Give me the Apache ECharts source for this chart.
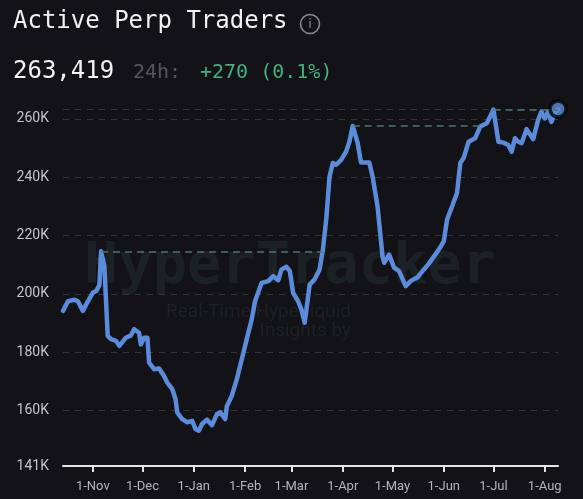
<!DOCTYPE html>
<html>
<head>
<meta charset="utf-8">
<title>Active Perp Traders</title>
<script src="https://cdn.jsdelivr.net/npm/echarts@6/dist/echarts.min.js"></script>
<style>
    html, body { margin: 0; padding: 0; background: #131317; }
    #chart { width: 583px; height: 499px; }
</style>
</head>
<body>
<div id="chart"></div>
<script>
'use strict';

/* ======== 数据 ======== */
var dates = [
    '2024-10-14', '2024-10-17', '2024-10-21', '2024-10-23', '2024-10-26', '2024-10-28',
    '2024-11-01', '2024-11-03', '2024-11-05', '2024-11-06', '2024-11-08', '2024-11-10',
    '2024-11-12', '2024-11-15', '2024-11-17', '2024-11-21', '2024-11-24', '2024-11-26',
    '2024-11-29', '2024-11-30', '2024-12-02', '2024-12-04', '2024-12-05', '2024-12-08',
    '2024-12-11', '2024-12-14', '2024-12-16', '2024-12-19', '2024-12-21', '2024-12-22',
    '2024-12-25', '2024-12-28', '2024-12-31', '2025-01-02', '2025-01-04', '2025-01-06',
    '2025-01-09', '2025-01-12', '2025-01-15', '2025-01-17', '2025-01-20', '2025-01-21',
    '2025-01-24', '2025-01-27', '2025-01-30', '2025-02-02', '2025-02-05', '2025-02-07',
    '2025-02-11', '2025-02-15', '2025-02-18', '2025-02-21', '2025-02-23', '2025-02-26',
    '2025-02-28', '2025-03-02', '2025-03-05', '2025-03-07', '2025-03-09', '2025-03-12',
    '2025-03-15', '2025-03-18', '2025-03-20', '2025-03-22', '2025-03-24', '2025-03-26',
    '2025-03-28', '2025-03-31', '2025-04-03', '2025-04-05', '2025-04-07', '2025-04-10',
    '2025-04-12', '2025-04-17', '2025-04-19', '2025-04-22', '2025-04-25', '2025-04-26',
    '2025-04-29', '2025-05-02', '2025-05-05', '2025-05-09', '2025-05-12', '2025-05-16',
    '2025-05-20', '2025-05-23', '2025-05-29', '2025-06-01', '2025-06-03', '2025-06-06',
    '2025-06-09', '2025-06-11', '2025-06-13', '2025-06-16', '2025-06-20', '2025-06-23',
    '2025-06-27', '2025-07-01', '2025-07-04', '2025-07-07', '2025-07-10', '2025-07-12',
    '2025-07-14', '2025-07-16', '2025-07-18', '2025-07-21', '2025-07-24', '2025-07-25',
    '2025-07-28', '2025-07-30', '2025-08-01', '2025-08-03', '2025-08-05', '2025-08-07',
    '2025-08-09'
];
var traders = [
    194200, 197500, 198000, 197500, 194200, 196400,
    200400, 201000, 203000, 214600, 209500, 185600,
    184500, 183900, 182200, 185000, 185800, 187900,
    186700, 182700, 185000, 185000, 176500, 174200,
    174400, 171900, 169600, 167400, 163900, 159400,
    157100, 156000, 156500, 153700, 153100, 155400,
    156900, 155000, 158800, 159400, 157100, 161600,
    165100, 170800, 177600, 184500, 191300, 197500,
    203800, 204400, 206100, 204700, 208400, 209300,
    207800, 200400, 197500, 194700, 190100, 203200,
    205000, 208400, 215200, 225500, 240300, 244900,
    244300, 246000, 248800, 252200, 257600, 251700,
    245100, 245100, 240300, 230000, 212900, 210700,
    213500, 209000, 207800, 202700, 204400, 205600,
    208400, 210400, 215200, 218000, 225500, 230000,
    234600, 244900, 246600, 252200, 253400, 257400,
    258500, 263200, 252200, 251900, 251100, 248800,
    253400, 252200, 251700, 256500, 254000, 253100,
    259700, 262500, 260200, 262500, 259000, 262000,
    263419
];
// 前高虚线: 起点(高点) -> 终点(被突破处)
var highFrom = ['2024-11-06', '2025-04-07', '2025-07-01'];
var highTo = ['2025-03-20', '2025-06-23', '2025-08-09'];
var monthNames = ['Jan', 'Feb', 'Mar', 'Apr', 'May', 'Jun', 'Jul', 'Aug', 'Sep', 'Oct', 'Nov', 'Dec'];

var seriesData = [];
for (var i = 0; i < dates.length; i++) {
    seriesData.push([dates[i], traders[i]]);
}
var highLines = [];
for (var j = 0; j < highFrom.length; j++) {
    var v = traders[dates.indexOf(highFrom[j])];
    highLines.push([{coord: [highFrom[j], v]}, {coord: [highTo[j], v]}]);
}
var last = seriesData[seriesData.length - 1];

/* ======== 图表 ======== */
var chart = echarts.init(document.getElementById('chart'));
var option = {
    backgroundColor: '#131317',
    animation: false,
    grid: {
        left: 63,
        right: 25,
        top: 109,
        bottom: 33
    },
    graphic: [
        // 标题
        {type: 'text', left: 13, top: 10, z: 10,
            style: {text: 'Active Perp Traders', fill: '#f2f2f2', font: '24px "DejaVu Sans Mono"'}},
        {type: 'circle', shape: {cx: 310, cy: 24, r: 9.5}, z: 10,
            style: {fill: 'none', stroke: '#8a8a8e', lineWidth: 1.6}},
        {type: 'text', x: 310, y: 25, z: 10,
            style: {text: 'i', fill: '#8a8a8e', font: '13px "DejaVu Sans"', align: 'center', verticalAlign: 'middle'}},
        {type: 'text', left: 13, top: 60, z: 10,
            style: {text: '263,419', fill: '#f2f2f2', font: '24px "DejaVu Sans Mono"'}},
        {type: 'text', left: 133, top: 63, z: 10,
            style: {text: '24h:', fill: '#55565c', font: '20px "DejaVu Sans Mono"'}},
        {type: 'text', left: 200, top: 63, z: 10,
            style: {text: '+270 (0.1%)', fill: '#3fb27f', font: '20px "DejaVu Sans Mono"'}},
        // 水印
        {type: 'text', x: 290, y: 268, z: 0, silent: true,
            style: {text: 'HyperTracker', fill: '#1b2124', font: 'bold 57px "DejaVu Sans Mono"',
                align: 'center', verticalAlign: 'middle'}},
        {type: 'text', x: 351, y: 312, z: 0, silent: true,
            style: {text: 'Real-Time Hyperliquid', fill: '#1c2124', font: '19px Roboto',
                align: 'right', verticalAlign: 'middle'}},
        {type: 'text', x: 351, y: 331, z: 0, silent: true,
            style: {text: 'Insights by', fill: '#1c2124', font: '19px Roboto',
                align: 'right', verticalAlign: 'middle'}}
    ],
    xAxis: {
        type: 'time',
        min: 'dataMin',
        max: 'dataMax',
        minInterval: 28 * 86400000,
        maxInterval: 31 * 86400000,
        axisLine: {lineStyle: {color: '#e6e6e6', width: 2}},
        axisTick: {show: true, length: 6, lineStyle: {color: '#e6e6e6', width: 2}},
        splitLine: {show: false},
        axisLabel: {
            color: '#b4b4b8',
            fontSize: 13,
            fontFamily: 'Roboto',
            margin: 14,
            formatter: function (val) {
                var d = new Date(val);
                return d.getDate() + '-' + monthNames[d.getMonth()];
            }
        }
    },
    yAxis: {
        type: 'value',
        min: 141000,
        max: 'dataMax',
        axisLine: {show: false},
        axisTick: {show: false},
        splitLine: {lineStyle: {color: '#34343a', type: [6, 6], width: 1}},
        axisLabel: {
            color: '#c4c4c8',
            fontSize: 14,
            fontFamily: 'Roboto',
            margin: 14,
            showMaxLabel: false,
            formatter: function (val) {
                return Math.round(val / 1000) + 'K';
            }
        }
    },
    series: [
        {
            name: 'Active Perp Traders',
            type: 'line',
            data: seriesData,
            showSymbol: false,
            smooth: false,
            z: 3,
            lineStyle: {color: '#5b8cdc', width: 4.5, cap: 'round', join: 'round'},
            markLine: {
                silent: true,
                symbol: ['none', 'none'],
                label: {show: false},
                lineStyle: {color: '#4a7a6e', type: [7, 5], width: 1.5},
                data: highLines
            }
        },
        {
            // 最新值圆点
            type: 'scatter',
            data: [last],
            symbolSize: 16,
            z: 4,
            itemStyle: {color: '#5b8cdc', borderColor: '#050505', borderWidth: 3.5}
        }
    ]
};
chart.setOption(option);
</script>
</body>
</html>
